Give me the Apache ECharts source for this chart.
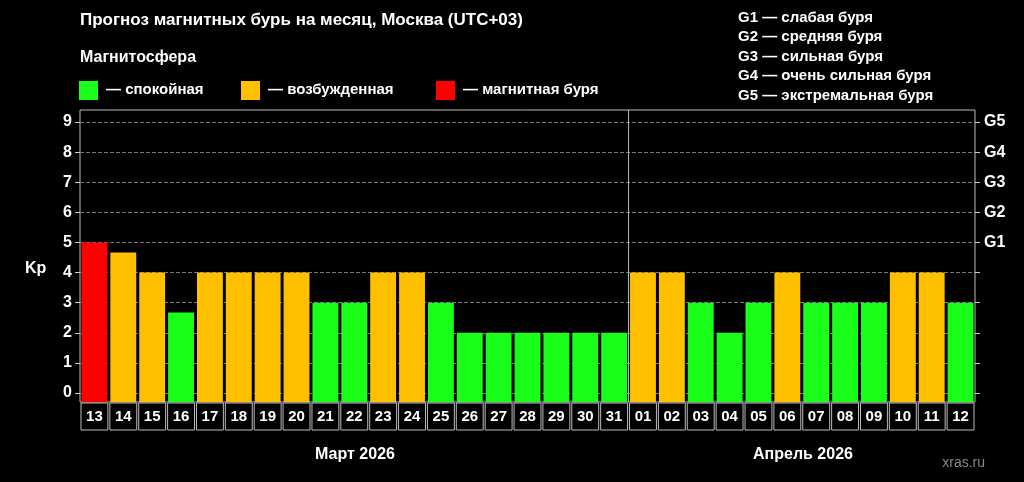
<!DOCTYPE html><html><head><meta charset="utf-8">
<script src="https://cdn.jsdelivr.net/npm/echarts@6/dist/echarts.min.js"></script>
<style>html,body{margin:0;background:#000}#c{width:1024px;height:482px}</style></head><body><div id="c"></div>
<script>
const categories=['13','14','15','16','17','18','19','20','21','22','23','24','25','26','27','28','29','30','31','01','02','03','04','05','06','07','08','09','10','11','12'];
const kpValues=[5,4.67,4,2.67,4,4,4,4,3,3,4,4,3,2,2,2,2,2,2,4,4,3,2,3,4,3,3,3,4,4,3];
const kpTicks=[0,1,2,3,4,5,6,7,8,9];
const gTicks=[5,6,7,8,9];
const gLabels=['G1','G2','G3','G4','G5'];
const months=['Март 2026','Апрель 2026'];
const FONT='Liberation Sans, Arial, sans-serif';
function col(v){return v>=5?'#ff0000':(v>=4?'#ffc000':'#1aff1a');}
const chart=echarts.init(document.getElementById('c'));
const axisCommon={type:'value',min:-0.3,max:9.4,
 axisLine:{show:false},
 axisTick:{show:true,customValues:kpTicks,length:5,lineStyle:{color:'#ccc'}},
 splitLine:{show:false}};
chart.setOption({
 backgroundColor:'#000',animation:false,
 textStyle:{fontFamily:FONT},
 grid:{left:80,right:49,top:110,bottom:80,show:true,borderColor:'#bbb',borderWidth:1},
 xAxis:{type:'category',data:categories,axisLine:{show:false},axisTick:{show:false},
  axisLabel:{interval:0,margin:1,color:'#fff',fontWeight:'bold',fontSize:15,fontFamily:FONT,
   width:26.9,height:27,lineHeight:27,align:'center',borderColor:'#bbb',borderWidth:1}},
 yAxis:[Object.assign({},axisCommon,{position:'left',
   axisLabel:{customValues:kpTicks,color:'#fff',fontWeight:'bold',fontSize:16,margin:8},
   splitLine:{show:true,customValues:[1,2,3,4,5,6,7,8,9],lineStyle:{color:'#777',type:'dashed'}}}),
  Object.assign({},axisCommon,{position:'right',
   axisLabel:{customValues:gTicks,formatter:v=>gLabels[Math.round(v)-5]||'',color:'#fff',fontWeight:'bold',fontSize:16,margin:9}})],
 series:[{type:'custom',data:kpValues.map((v,i)=>[i,v]),
  renderItem:function(params,api){
   const i=api.value(0),v=api.value(1);
   const top=api.coord([i,v]);const cs=params.coordSys;
   const w=api.size([1,0])[0];const bottom=cs.y+cs.height;
   const ch=[{type:'rect',shape:{x:top[0]-w/2+1.5,y:top[1],width:w-3,height:bottom-top[1]},style:{fill:col(v)}}];
   if(categories[i]==='31'){ch.push({type:'line',shape:{x1:top[0]+w/2,y1:cs.y,x2:top[0]+w/2,y2:bottom},style:{stroke:'#bbb',lineWidth:1}});}
   return {type:'group',children:ch};
  }}],
 graphic:[
  {type:'text',left:80,top:12,style:{text:'Прогноз магнитных бурь на месяц, Москва (UTC+03)',fill:'#fff',font:'bold 17px '+FONT}},
  {type:'text',left:80,top:50,style:{text:'Магнитосфера',fill:'#fff',font:'bold 16px '+FONT}},
  {type:'rect',shape:{x:79,y:81,width:19,height:19},style:{fill:'#1aff1a'}},
  {type:'text',left:106,top:82,style:{text:'— спокойная',fill:'#fff',font:'bold 15px '+FONT}},
  {type:'rect',shape:{x:241,y:81,width:19,height:19},style:{fill:'#ffc000'}},
  {type:'text',left:268,top:82,style:{text:'— возбужденная',fill:'#fff',font:'bold 15px '+FONT}},
  {type:'rect',shape:{x:436,y:81,width:19,height:19},style:{fill:'#ff0000'}},
  {type:'text',left:463,top:82,style:{text:'— магнитная буря',fill:'#fff',font:'bold 15px '+FONT}},
  {type:'text',left:738,top:8,style:{text:'G1 — слабая буря\nG2 — средняя буря\nG3 — сильная буря\nG4 — очень сильная буря\nG5 — экстремальная буря',fill:'#fff',font:'bold 15px '+FONT,lineHeight:19.5}},
  {type:'text',left:25,top:261,style:{text:'Kp',fill:'#fff',font:'bold 16px '+FONT}},
  {type:'text',x:355,y:455,style:{text:months[0],fill:'#fff',font:'bold 16px '+FONT,align:'center',verticalAlign:'middle'}},
  {type:'text',x:803,y:455,style:{text:months[1],fill:'#fff',font:'bold 16px '+FONT,align:'center',verticalAlign:'middle'}},
  {type:'text',x:985,y:463,style:{text:'xras.ru',fill:'#888',font:'14px '+FONT,align:'right',verticalAlign:'middle'}}
 ]
});
</script></body></html>
